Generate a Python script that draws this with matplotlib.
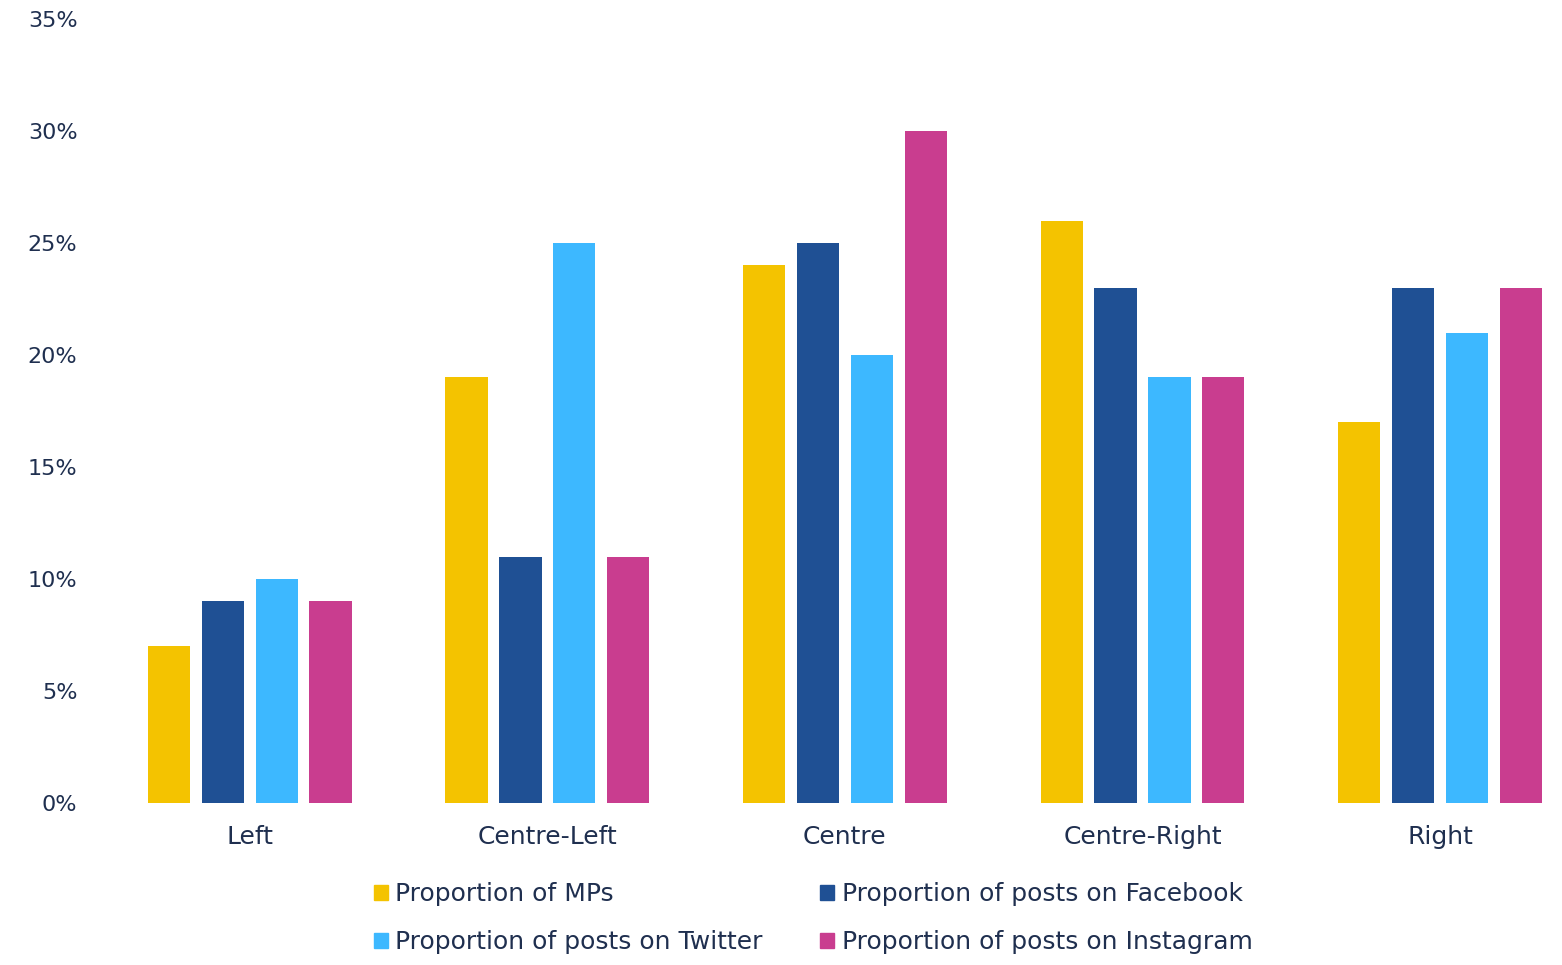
import matplotlib
matplotlib.use("Agg")
import matplotlib.pyplot as plt
import numpy as np
from matplotlib.patches import Patch
from matplotlib.ticker import FuncFormatter

categories = ["Left", "Centre-Left", "Centre", "Centre-Right", "Right"]
series_names = [
    "Proportion of MPs",
    "Proportion of posts on Facebook",
    "Proportion of posts on Twitter",
    "Proportion of posts on Instagram",
]
mps = [7, 19, 24, 26, 17]
facebook = [9, 11, 25, 23, 23]
twitter = [10, 25, 20, 19, 21]
instagram = [9, 11, 30, 19, 23]

colors = ["#F4C300", "#1F5094", "#3DB8FF", "#C93D8F"]
text_color = "#1F2F4F"

plt.rcParams["font.family"] = ["DejaVu Sans"]

fig = plt.figure(figsize=(15.62, 9.65), dpi=100)
ax = fig.add_axes([101 / 1562, 162 / 965, 1461 / 1562, 784 / 965])

x = np.arange(len(categories))
step = 0.181
width = 0.142
for i, (vals, color) in enumerate(zip([mps, facebook, twitter, instagram], colors)):
    ax.bar(x + (i - 1.5) * step, vals, width=width, color=color, label=series_names[i])

ax.set_xlim(-0.5, 4.41)
ax.set_ylim(0, 35)
ax.set_yticks(range(0, 36, 5))
ax.yaxis.set_major_formatter(FuncFormatter(lambda v, _: f"{v:.0f}%"))
ax.set_xticks(x)
ax.set_xticklabels(categories)
ax.tick_params(axis="both", length=0, colors=text_color)
ax.tick_params(axis="x", pad=16, labelsize=18)
ax.tick_params(axis="y", pad=17, labelsize=16)
for spine in ax.spines.values():
    spine.set_visible(False)

order = [0, 2, 1, 3]
handles = [Patch(color=colors[k]) for k in order]
labels = [series_names[k] for k in order]
fig.legend(handles, labels, ncol=2, loc="upper left", bbox_to_anchor=(374 / 1562, 1 - 882 / 965),
           frameon=False, fontsize=18, labelcolor=text_color, handlelength=0.55, handleheight=0.55,
           handletextpad=0.3, columnspacing=2.3, labelspacing=0.98, borderaxespad=0, borderpad=0)

fig.savefig("out.png", dpi=100)
